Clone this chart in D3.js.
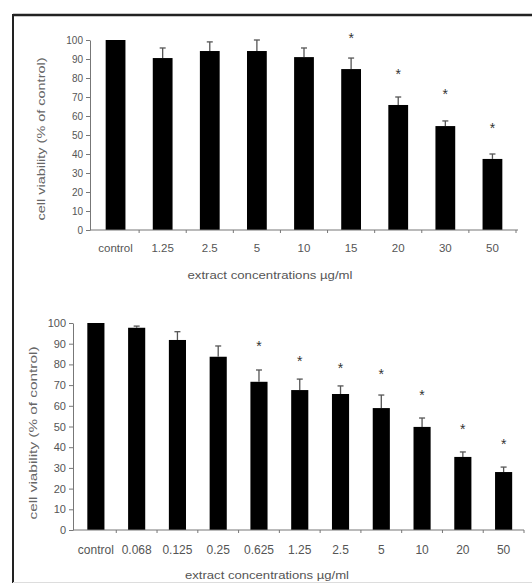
<!DOCTYPE html>
<html><head><meta charset="utf-8">
<script src="https://cdn.jsdelivr.net/npm/d3@7"></script>
<style>body{margin:0;background:#fff}svg{display:block}text{font-family:"Liberation Sans",Arial,sans-serif;fill:#444}</style>
</head><body><svg id="c" width="532" height="586"></svg>
<script>
// Top panel
const catsA = ["control","1.25","2.5","5","10","15","20","30","50"];
const valsA = [100, 90.5, 94.2, 94.2, 91, 84.7, 65.8, 54.7, 37.4];
const errA  = [0, 5.3, 4.8, 5.8, 4.8, 5.8, 4.2, 2.7, 2.6];
const starA = [null, null, null, null, null, 101.6, 82.6, 72, 54.2];
const ticksA = [0,10,20,30,40,50,60,70,80,90,100];
// Bottom panel
const catsB = ["control","0.068","0.125","0.25","0.625","1.25","2.5","5","10","20","50"];
const valsB = [100, 97.7, 91.8, 83.7, 71.6, 67.6, 65.7, 58.9, 49.8, 35.3, 28];
const errB  = [0, 0.8, 4, 5.2, 5.7, 5.3, 3.9, 6.3, 4.3, 2.4, 2.4];
const starB = [null, null, null, null, 89.4, 82.1, 78.7, 75.8, 65.7, 49.3, 42];
const ticksB = [0,10,20,30,40,50,60,70,80,90,100];
const yTitle = "cell viability (% of control)";
const xTitle = "extract concentrations µg/ml";

const svg = d3.select("#c");
// frame
svg.append("line").attr("x1",13).attr("x2",532).attr("y1",15).attr("y2",15).attr("stroke","#222").attr("stroke-width",2.5);
svg.append("line").attr("x1",13).attr("x2",13).attr("y1",14).attr("y2",583).attr("stroke","#222").attr("stroke-width",2);
svg.append("line").attr("x1",13).attr("x2",532).attr("y1",582.5).attr("y2",582.5).attr("stroke","#ddd").attr("stroke-width",1);

function panel(o){
  const x = d3.scaleBand().domain(o.cats).range(o.xr).paddingInner(o.pad).paddingOuter(o.pad/2);
  const y = d3.scaleLinear().domain([0,100]).range(o.yr);
  const g = svg.append("g");
  g.selectAll("rect.bar").data(o.vals).join("rect")
    .attr("x",(d,i)=>x(o.cats[i])).attr("width",x.bandwidth())
    .attr("y",d=>y(d)).attr("height",d=>y(0)-y(d)).attr("fill","#000");
  o.vals.forEach((v,i)=>{
    if(!o.err[i]) return;
    const cx = x(o.cats[i])+x.bandwidth()/2;
    g.append("line").attr("x1",cx).attr("x2",cx).attr("y1",y(v)).attr("y2",y(v+o.err[i])).attr("stroke","#555").attr("stroke-width",1.3);
    g.append("line").attr("x1",cx-3).attr("x2",cx+3).attr("y1",y(v+o.err[i])).attr("y2",y(v+o.err[i])).attr("stroke","#555").attr("stroke-width",1.3);
  });
  o.stars.forEach((s,i)=>{
    if(s==null) return;
    g.append("text").attr("x",x(o.cats[i])+x.bandwidth()/2).attr("y",y(s)+6)
      .attr("text-anchor","middle").attr("font-size",14).style("fill","#333").text("*");
  });
  const ya = g.append("g").attr("transform",`translate(${o.ax},0)`)
    .call(d3.axisLeft(y).tickValues(o.ticks).tickSize(4).tickSizeOuter(0));
  ya.selectAll("path,line").attr("stroke","#777");
  ya.selectAll("text").attr("font-size",o.fs).style("fill","#555").attr("x",-7);
  const xa = g.append("g").attr("transform",`translate(0,${y(0)})`);
  xa.append("line").attr("x1",o.ax).attr("x2",o.xend).attr("stroke","#777");
  const bounds = o.cats.map((c,i)=>x(c)-x.step()*o.pad/2).concat([o.xr[1]]);
  xa.selectAll("line.t").data(bounds.slice(1)).join("line").attr("class","t")
    .attr("x1",d=>d).attr("x2",d=>d).attr("y1",0).attr("y2",3).attr("stroke","#777");
  xa.selectAll("text").data(o.cats).join("text")
    .attr("x",d=>x(d)+x.bandwidth()/2).attr("y",o.tly).attr("text-anchor","middle")
    .attr("font-size",o.xfs).style("fill","#555").text(d=>d);
  svg.append("text").attr("transform",`translate(${o.ytx},${o.yty}) rotate(-90)`)
    .attr("text-anchor","middle").attr("font-size",o.tfs).style("fill","#666")
    .attr("textLength",o.ytl).attr("lengthAdjust","spacingAndGlyphs").text(yTitle);
  svg.append("text").attr("x",o.xtx).attr("y",o.xty).attr("text-anchor","middle")
    .attr("font-size",o.tfs).style("fill","#555")
    .attr("textLength",o.xtl).attr("lengthAdjust","spacingAndGlyphs").text(xTitle);
}

panel({cats:catsA, vals:valsA, err:errA, stars:starA, ticks:ticksA,
  xr:[92,516], yr:[230,40], pad:0.58, ax:90, xend:518, fs:10, xfs:11.5, tfs:10.5, tly:22,
  ytx:45, yty:139, ytl:163, xtx:270, xty:279, xtl:165});
panel({cats:catsB, vals:valsB, err:errB, stars:starB, ticks:ticksB,
  xr:[75.5,524], yr:[530,323], pad:0.58, ax:73, xend:524, fs:11, xfs:12, tfs:11, tly:24,
  ytx:37, yty:433, ytl:173, xtx:267, xty:579, xtl:164});
</script></body></html>
